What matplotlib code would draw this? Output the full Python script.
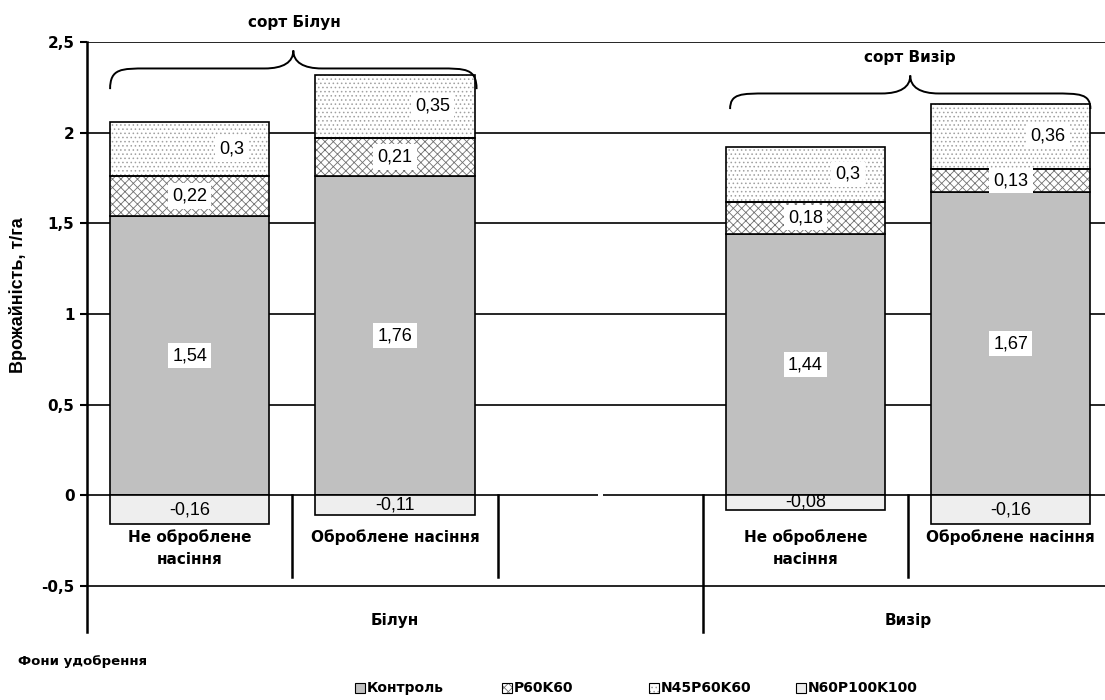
import numpy as np
import matplotlib.pyplot as plt
from matplotlib.patches import PathPatch, Rectangle
from matplotlib.path import Path

plt.rcParams['font.family'] = ['DejaVu Sans']
plt.rcParams['hatch.linewidth'] = 0.6

# yield components, t/ha (two varieties x two seed treatments)
varieties = ['Білун', 'Визір']
treatments = ['Не оброблене\nнасіння', 'Оброблене насіння']
series_names = ['Контроль', 'P60K60', 'N45P60K60', 'N60P100K100']

control = [1.54, 1.76, 1.44, 1.67]
p60k60 = [0.22, 0.21, 0.18, 0.13]
n45p60k60 = [0.30, 0.35, 0.30, 0.36]
n60p100k100 = [-0.16, -0.11, -0.08, -0.16]

y_ticks = [-0.5, 0, 0.5, 1, 1.5, 2, 2.5]

# category slots: third slot is an empty spacer between the varieties
slots = [0, 1, 3, 4]
x = np.array(slots) + 0.5
W = 0.775

GRAY = '#c0c0c0'
NEG = '#eeeeee'
NUM_FONT = dict(family='Liberation Sans', fontsize=13)


def fmt(v):
    return f'{v:g}'.replace('.', ',')


def brace(ax, x0, x1, y_end, y_mid, y_tip, rx=0.18, rt=0.14):
    xm = (x0 + x1) / 2
    verts = [
        (x0, y_end),
        (x0, y_mid), (x0 + rx * 0.3, y_mid), (x0 + rx, y_mid),
        (xm - rt, y_mid),
        (xm - rt * 0.35, y_mid), (xm, y_mid + (y_tip - y_mid) * 0.35), (xm, y_tip),
        (xm, y_mid + (y_tip - y_mid) * 0.35), (xm + rt * 0.35, y_mid), (xm + rt, y_mid),
        (x1 - rx, y_mid),
        (x1 - rx * 0.3, y_mid), (x1, y_mid), (x1, y_end),
    ]
    codes = [Path.MOVETO] + [Path.CURVE4] * 3 + [Path.LINETO] + [Path.CURVE4] * 6 \
        + [Path.LINETO] + [Path.CURVE4] * 3
    ax.add_patch(PathPatch(Path(verts, codes), fill=False, lw=1.4,
                           edgecolor='black', zorder=6, clip_on=False))


fig = plt.figure(figsize=(11.05, 7), dpi=100)
ax = fig.add_axes([87 / 1105, 68 / 700, 1026.5 / 1105, 590 / 700])
ax.set_xlim(0, 5)
ax.set_ylim(-0.755, 2.5)

# stacked bars
ax.bar(x, control, W, color=GRAY, edgecolor='black', linewidth=1.2, zorder=2)
b2 = np.array(control)
ax.bar(x, p60k60, W, bottom=b2, color='white', edgecolor='#707070',
       hatch='xxxx', linewidth=0, zorder=2)
ax.bar(x, p60k60, W, bottom=b2, fill=False, edgecolor='black', linewidth=1.2, zorder=3)
b3 = b2 + np.array(p60k60)
ax.bar(x, n45p60k60, W, bottom=b3, color='white', edgecolor='#a0a0a0',
       hatch='....', linewidth=0, zorder=2)
ax.bar(x, n45p60k60, W, bottom=b3, fill=False, edgecolor='black', linewidth=1.2, zorder=3)
ax.bar(x, n60p100k100, W, color=NEG, edgecolor='black', linewidth=1.2, zorder=2)

# value labels
box = dict(facecolor='white', edgecolor='none', pad=3)
for xi, c, p, n, m in zip(x, control, p60k60, n45p60k60, n60p100k100):
    ax.text(xi, c / 2, fmt(c), ha='center', va='center', bbox=box, zorder=5, **NUM_FONT)
    ax.text(xi, c + p / 2, fmt(p), ha='center', va='center', bbox=box, zorder=5, **NUM_FONT)
    ax.text(xi + W / 2 - 0.12, c + p + n / 2, fmt(n), ha='right', va='center',
            bbox=box, zorder=5, **NUM_FONT)
    ax.text(xi, m / 2, fmt(m), ha='center', va='center', zorder=5, **NUM_FONT)

# empty spacer category keeps its blank label box on the zero line
ax.text(2.5, 0, ' \n ', ha='center', va='center', fontsize=12, linespacing=1.0,
        bbox=dict(facecolor='white', edgecolor='none', pad=0), zorder=4)

# y axis
ax.set_yticks(y_ticks)
ax.set_yticklabels([fmt(t) for t in y_ticks], fontweight='bold', fontsize=11)
ax.tick_params(axis='y', length=5, width=1.5, direction='out', pad=4)
ax.tick_params(axis='x', bottom=False, labelbottom=False)
ax.yaxis.grid(True, color='black', linewidth=1.2, zorder=0)
ax.set_axisbelow(True)
for s in ['top', 'right', 'bottom']:
    ax.spines[s].set_visible(False)
ax.spines['left'].set_linewidth(1.8)

fig.text(18 / 1105, 1 - 295 / 700, 'Врожайність, т/га', rotation=90, ha='center',
         va='center', family='Liberation Sans', fontweight='bold', fontsize=13)

# multi-level category axis
for xi, t in zip(x, treatments * 2):
    ax.text(xi, -0.19, t, ha='center', va='top', fontweight='bold', fontsize=11,
            linespacing=1.55)
for s in [1, 2, 4]:
    ax.plot([s, s], [0, -0.45], color='black', lw=1.8, clip_on=False, zorder=3)
ax.plot([3, 3], [0, -0.755], color='black', lw=1.8, clip_on=False, zorder=3)
for v, xc in zip(varieties, [1.5, 4.0]):
    ax.text(xc, -0.69, v, ha='center', va='center', fontweight='bold', fontsize=11)

# variety braces and captions
brace(ax, x[0] - W / 2, x[1] + W / 2 + 0.01, 2.24, 2.354, 2.453)
brace(ax, x[2] - W / 2 + 0.02, x[3] + W / 2, 2.13, 2.216, 2.315)
ax.text((x[0] + x[1]) / 2 + 0.01, 2.61, 'сорт ' + varieties[0], ha='center',
        va='center', fontweight='bold', fontsize=11, clip_on=False)
ax.text((x[2] + x[3]) / 2 + 0.01, 2.415, 'сорт ' + varieties[1], ha='center',
        va='center', fontweight='bold', fontsize=11, clip_on=False)

# legend
fig.text(18 / 1105, 1 - 662 / 700, 'Фони удобрення', ha='left', va='center',
         fontweight='bold', fontsize=9.5)
styles = [
    dict(facecolor=GRAY),
    dict(facecolor='white', hatch='xxxx', hatch_color='#707070'),
    dict(facecolor='white', hatch='....', hatch_color='#a0a0a0'),
    dict(facecolor=NEG),
]
for i, (name, st) in enumerate(zip(series_names, styles)):
    x0 = (355 + 147 * i) / 1105
    y0 = 1 - 693 / 700
    w, h = 10 / 1105, 10 / 700
    if 'hatch' in st:
        fig.add_artist(Rectangle((x0, y0), w, h, transform=fig.transFigure,
                                 facecolor='white', edgecolor=st['hatch_color'],
                                 hatch=st['hatch'], linewidth=0))
        fig.add_artist(Rectangle((x0, y0), w, h, transform=fig.transFigure,
                                 fill=False, edgecolor='black', linewidth=0.8))
    else:
        fig.add_artist(Rectangle((x0, y0), w, h, transform=fig.transFigure,
                                 facecolor=st['facecolor'], edgecolor='black',
                                 linewidth=0.8))
    fig.text(x0 + 12 / 1105, 1 - 688 / 700, name, ha='left', va='center',
             fontweight='bold', fontsize=10)

fig.savefig('out.png', dpi=100)
